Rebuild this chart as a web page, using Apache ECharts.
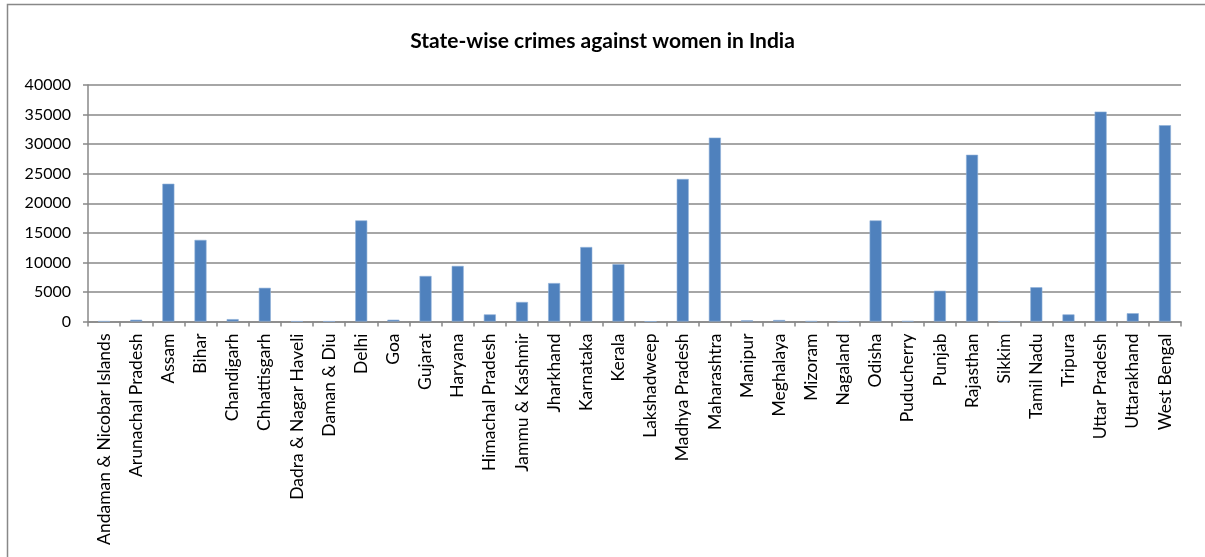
<!DOCTYPE html>
<html><head><meta charset="utf-8">
<script src="https://cdn.jsdelivr.net/npm/echarts@6/dist/echarts.min.js"></script>
<style>html,body{margin:0;padding:0;background:#fff}#c{width:1205px;height:557px}</style>
</head><body><div id="c"></div>
<script>
const categories = ["Andaman & Nicobar Islands","Arunachal Pradesh","Assam","Bihar","Chandigarh","Chhattisgarh","Dadra & Nagar Haveli","Daman & Diu","Delhi","Goa","Gujarat","Haryana","Himachal Pradesh","Jammu & Kashmir","Jharkhand","Karnataka","Kerala","Lakshadweep","Madhya Pradesh","Maharashtra","Manipur","Meghalaya","Mizoram","Nagaland","Odisha","Puducherry","Punjab","Rajasthan","Sikkim","Tamil Nadu","Tripura","Uttar Pradesh","Uttarakhand","West Bengal"];
const crimes = [40,300,23300,13800,400,5700,20,20,17100,300,7700,9400,1200,3300,6500,12600,9700,0,24100,31100,200,250,50,30,17100,60,5200,28200,40,5800,1200,35500,1400,33200];
const yTicks = [0,5000,10000,15000,20000,25000,30000,35000,40000];
const titleText = "State-wise crimes against women in India";

const chart = echarts.init(document.getElementById('c'));
chart.setOption({
  animation:false,
  backgroundColor:'#fff',
  title:{text:titleText,left:'center',top:26,textStyle:{fontFamily:'Lato',fontWeight:'bold',fontSize:21,color:'#000'}},
  graphic:[{type:'rect',shape:{x:7.5,y:4.5,width:1300,height:700},style:{fill:'none',stroke:'#888',lineWidth:1.5},silent:true}],
  grid:{left:88,right:24,top:85,bottom:235.5},
  xAxis:{type:'category',data:categories,
    axisLine:{lineStyle:{color:'#888',width:1.5}},
    axisTick:{show:true,alignWithLabel:false,length:5,lineStyle:{color:'#888',width:1.5}},
    axisLabel:{rotate:90,interval:0,margin:12,fontFamily:'Lato',fontSize:17.5,color:'#000'}},
  yAxis:{type:'value',min:yTicks[0],max:yTicks[yTicks.length-1],interval:5000,
    axisLine:{show:true,lineStyle:{color:'#888',width:1.5}},
    axisTick:{show:true,length:5,lineStyle:{color:'#888',width:1.5}},
    splitLine:{lineStyle:{color:'#888',width:1.5}},
    axisLabel:{margin:17,fontFamily:'Lato',fontSize:16,color:'#000',formatter:v=>String(v)}},
  series:[{type:'bar',data:crimes,barWidth:12,
    itemStyle:{color:'#4F81BD',borderColor:'#8FB0D8',borderWidth:0.6}}]
});
</script></body></html>
